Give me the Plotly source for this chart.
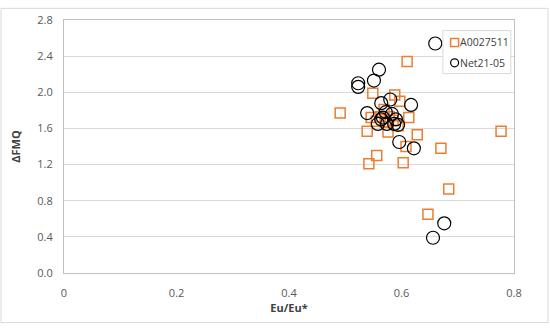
import plotly.graph_objects as go

# A0027511 (squares)
sq_x = [0.610, 0.588, 0.549, 0.597, 0.491, 0.613, 0.539, 0.576, 0.628, 0.777,
        0.608, 0.670, 0.556, 0.542, 0.603, 0.684, 0.647, 0.569, 0.578, 0.562,
        0.585, 0.594, 0.571, 0.555, 0.546]
sq_y = [2.34, 1.97, 1.99, 1.90, 1.77, 1.72, 1.57, 1.56, 1.53, 1.57,
        1.40, 1.38, 1.30, 1.21, 1.22, 0.93, 0.65, 1.81, 1.73, 1.73,
        1.69, 1.63, 1.67, 1.68, 1.72]

# Net21-05 (circles)
ci_x = [0.660, 0.560, 0.551, 0.523, 0.523, 0.564, 0.580, 0.617, 0.539, 0.572,
        0.583, 0.590, 0.564, 0.574, 0.558, 0.587, 0.596, 0.622, 0.676, 0.656,
        0.567, 0.594]
ci_y = [2.54, 2.25, 2.13, 2.10, 2.06, 1.88, 1.92, 1.86, 1.77, 1.78,
        1.76, 1.70, 1.70, 1.65, 1.65, 1.65, 1.45, 1.38, 0.55, 0.39,
        1.72, 1.64]

series_names = ["A0027511", "Net21-05"]

x_ticks = [0, 0.2, 0.4, 0.6, 0.8]
x_ticktext = ["0", "0.2", "0.4", "0.6", "0.8"]
y_ticks = [0, 0.4, 0.8, 1.2, 1.6, 2.0, 2.4, 2.8]

FONT = "Open Sans"
ORANGE = "#ED7D31"

fig = go.Figure()
fig.add_trace(go.Scatter(
    x=sq_x, y=sq_y, mode="markers", name=series_names[0],
    marker=dict(symbol="square-open", size=10, color=ORANGE,
                line=dict(width=1.5, color=ORANGE)),
))
fig.add_trace(go.Scatter(
    x=ci_x, y=ci_y, mode="markers", name=series_names[1],
    marker=dict(symbol="circle-open", size=13, color="#000000",
                line=dict(width=1.2, color="#000000")),
))

# manual compact legend (Excel-style)
lx0, lx1, ly0, ly1 = 0.842, 0.993, 0.788, 0.958
sym_x = 0.868
txt_x = 0.877
row_y = [0.9115, 0.8308]
shapes = [
    dict(type="rect", xref="paper", yref="paper",
         x0=-0.14, x1=1.0756, y0=-0.196, y1=1.046,
         line=dict(color="#d9d9d9", width=1), layer="below"),
    dict(type="rect", xref="paper", yref="paper", x0=lx0, x1=lx1, y0=ly0, y1=ly1,
         fillcolor="white", line=dict(color="#d9d9d9", width=1), layer="above"),
    dict(type="rect", xref="paper", yref="paper", xsizemode="pixel", ysizemode="pixel",
         xanchor=sym_x, yanchor=row_y[0], x0=-4, x1=4, y0=-4, y1=4,
         line=dict(color=ORANGE, width=1.5), layer="above"),
    dict(type="circle", xref="paper", yref="paper", xsizemode="pixel", ysizemode="pixel",
         xanchor=sym_x, yanchor=row_y[1], x0=-4, x1=4, y0=-4, y1=4,
         line=dict(color="#000000", width=1.2), layer="above"),
]
annotations = [
    dict(xref="paper", yref="paper", x=txt_x, y=row_y[i], xanchor="left", yanchor="middle",
         text=series_names[i], showarrow=False, borderpad=0,
         font=dict(family=FONT, size=10.5, color="#404040"))
    for i in range(2)
]

fig.update_layout(
    width=550, height=328,
    margin=dict(l=64, r=36, t=13, b=55),
    paper_bgcolor="white", plot_bgcolor="white",
    font=dict(family=FONT, size=11, color="#595959"),
    showlegend=False,
    shapes=shapes,
    annotations=annotations,
)
fig.update_xaxes(
    range=[0, 0.8], tickvals=x_ticks, ticktext=x_ticktext,
    showgrid=False, zeroline=False, showline=True, mirror=True,
    linecolor="#bfbfbf", linewidth=1, ticks="", ticklabelstandoff=10,
    title=dict(text="<b>Eu/Eu*</b>", font=dict(family=FONT, size=11, color="#404040"), standoff=3),
)
fig.update_yaxes(
    range=[0, 2.8], tickvals=y_ticks, tickformat=".1f",
    showgrid=True, gridcolor="#d9d9d9", gridwidth=1, zeroline=False,
    showline=True, mirror=True, linecolor="#bfbfbf", linewidth=1,
    ticks="", ticklabelstandoff=8,
    title=dict(text="<b>ΔFMQ</b>", font=dict(family=FONT, size=11, color="#404040"), standoff=14),
)

fig.write_html("out.html")
